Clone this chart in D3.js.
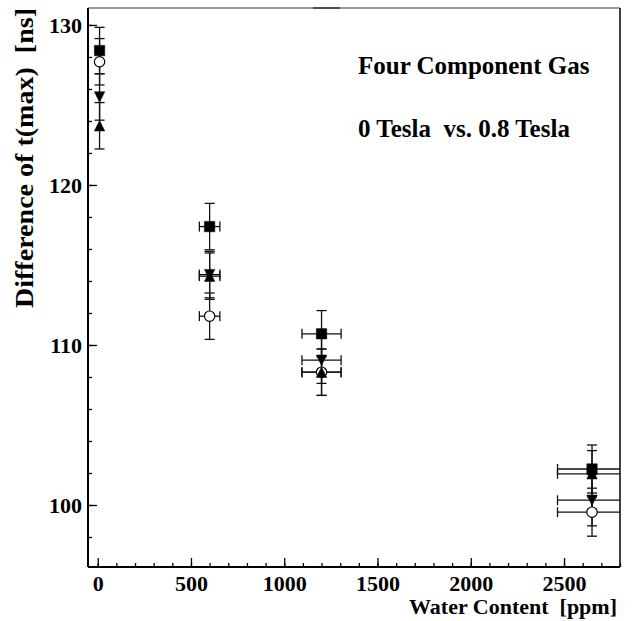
<!DOCTYPE html>
<html>
<head>
<meta charset="utf-8">
<script src="https://cdn.jsdelivr.net/npm/d3@7"></script>
<style>
  body { margin: 0; background: #fff; }
  svg { display: block; font-family: "Liberation Serif", "Times New Roman", serif; font-weight: bold; }
</style>
</head>
<body>
<div class="canvas"></div>
<script>
// water content of the gas [ppm] and its uncertainty
const waterContent = [10, 600, 1200, 2650];
const waterErr = [0, 55, 105, 185];

// difference of t(max) [ns], one array per marker
const squareVals = [128.4, 117.4, 110.7, 102.25];
const squareErr = [1.45, 1.45, 1.45, 1.5];
const circleVals = [127.7, 111.8, 108.3, 99.55];
const circleErr = [1.45, 1.45, 1.45, 1.5];
const downVals = [125.5, 114.4, 109.05, 100.3];
const downErr = [1.45, 1.45, 1.45, 1.6];
const upVals = [123.7, 114.3, 108.3, 101.95];
const upErr = [1.45, 1.45, 1.45, 1.45];

const xTicks = [0, 500, 1000, 1500, 2000, 2500];
const yTicks = [100, 110, 120, 130];

const w = 637;
const h = 621;
const margin = { top: 8, right: 17, bottom: 54, left: 88 };
const graphWidth = w - margin.left - margin.right;
const graphHeight = h - margin.top - margin.bottom;

const svg = d3
  .select(".canvas")
  .append("svg")
  .attr("width", w)
  .attr("height", h);

// scales
const x = d3.scaleLinear().domain([-52, 2800]).range([0, graphWidth]);
const y = d3.scaleLinear().domain([96.125, 131.06]).range([graphHeight, 0]);

const graph = svg
  .append("g")
  .attr("transform", `translate(${margin.left}, ${margin.top})`);

// clip the error bars at the frame
graph.append("clipPath").attr("id", "frame")
  .append("rect").attr("width", graphWidth).attr("height", graphHeight);

// minor ticks
graph.append("g")
  .attr("transform", `translate(0, ${graphHeight})`)
  .call(d3.axisBottom(x).tickValues(d3.range(0, 2801, 100)).tickSize(-4).tickFormat(""))
  .call(g => g.select(".domain").remove());
graph.append("g")
  .call(d3.axisLeft(y).tickValues(d3.range(98, 131, 2)).tickSize(-4).tickFormat(""))
  .call(g => g.select(".domain").remove());

// major ticks and labels
const xAxisGroup = graph.append("g")
  .attr("transform", `translate(0, ${graphHeight})`)
  .call(d3.axisBottom(x).tickValues(xTicks).tickSize(-9).tickPadding(8).tickFormat(d3.format("d")));
const yAxisGroup = graph.append("g")
  .call(d3.axisLeft(y).tickValues(yTicks).tickSize(-9).tickPadding(6));

[xAxisGroup, yAxisGroup].forEach(g => {
  g.select(".domain").remove();
  g.selectAll("text")
    .attr("fill", "#000")
    .style("font-family", "Liberation Serif")
    .style("font-weight", "bold")
    .style("font-size", "22px");
});
graph.selectAll(".tick line").attr("stroke", "#000").attr("stroke-width", 1.3);

// frame
graph.append("line").attr("x1", 0).attr("x2", graphWidth).attr("y1", 0).attr("y2", 0)
  .attr("stroke", "#777").attr("stroke-width", 1.5);
graph.append("line").attr("x1", graphWidth).attr("x2", graphWidth).attr("y1", 0).attr("y2", graphHeight)
  .attr("stroke", "#000").attr("stroke-width", 1.5);
graph.append("line").attr("x1", 0).attr("x2", graphWidth).attr("y1", graphHeight).attr("y2", graphHeight)
  .attr("stroke", "#000").attr("stroke-width", 2);
graph.append("line").attr("x1", 0).attr("x2", 0).attr("y1", 0).attr("y2", graphHeight)
  .attr("stroke", "#000").attr("stroke-width", 2);
// leftover title bar at the top
svg.append("line").attr("x1", 313).attr("x2", 340).attr("y1", 8).attr("y2", 8)
  .attr("stroke", "#333").attr("stroke-width", 1.5);

// build the series, in drawing order
const series = [
  { name: "circle", vals: circleVals, err: circleErr },
  { name: "square", vals: squareVals, err: squareErr },
  { name: "down", vals: downVals, err: downErr },
  { name: "up", vals: upVals, err: upErr }
];
const points = [];
series.forEach(s => {
  s.vals.forEach((v, i) => {
    points.push({ type: s.name, x: waterContent[i], xe: waterErr[i], y: v, ye: s.err[i] });
  });
});

const cap = 5;
const bars = graph.append("g")
  .attr("clip-path", "url(#frame)")
  .attr("stroke", "#111")
  .attr("stroke-width", 1.3)
  .attr("fill", "none");

points.forEach(d => {
  const cx = x(d.x), cy = y(d.y);
  const y0 = y(d.y - d.ye), y1 = y(d.y + d.ye);
  bars.append("line").attr("x1", cx).attr("x2", cx).attr("y1", y0).attr("y2", y1);
  bars.append("line").attr("x1", cx - cap).attr("x2", cx + cap).attr("y1", y0).attr("y2", y0);
  bars.append("line").attr("x1", cx - cap).attr("x2", cx + cap).attr("y1", y1).attr("y2", y1);
  if (d.xe > 0) {
    const x0 = x(d.x - d.xe), x1 = x(d.x + d.xe);
    bars.append("line").attr("x1", x0).attr("x2", x1).attr("y1", cy).attr("y2", cy);
    bars.append("line").attr("x1", x0).attr("x2", x0).attr("y1", cy - cap).attr("y2", cy + cap);
    bars.append("line").attr("x1", x1).attr("x2", x1).attr("y1", cy - cap).attr("y2", cy + cap);
  }
});

// markers
const r = 5.2;
const markerPath = t => {
  if (t === "square") return `M${-r},${-r}H${r}V${r}H${-r}Z`;
  if (t === "up") return `M0,${-r}L${r},${r}H${-r}Z`;
  if (t === "down") return `M0,${r}L${r},${-r}H${-r}Z`;
  return d3.arc()({ innerRadius: 0, outerRadius: r, startAngle: 0, endAngle: 2 * Math.PI });
};
graph.append("g")
  .selectAll("path")
  .data(points)
  .enter()
  .append("path")
  .attr("transform", d => `translate(${x(d.x)}, ${y(d.y)})`)
  .attr("d", d => markerPath(d.type))
  .attr("fill", d => (d.type === "circle" ? "#fff" : "#000"))
  .attr("stroke", "#000")
  .attr("stroke-width", d => (d.type === "circle" ? 1.2 : 0.5));

// texts
svg.append("text")
  .attr("x", 358).attr("y", 74)
  .style("font-size", "25px")
  .text("Four Component Gas");
svg.append("text")
  .attr("x", 358).attr("y", 137)
  .style("font-size", "25px")
  .style("white-space", "pre")
  .text("0 Tesla  vs. 0.8 Tesla");

svg.append("text")
  .attr("text-anchor", "end")
  .attr("x", 617).attr("y", 614)
  .style("font-size", "22px")
  .style("white-space", "pre")
  .text("Water Content  [ppm]");

svg.append("text")
  .attr("text-anchor", "end")
  .attr("transform", "translate(33, 8) rotate(-90)")
  .attr("textLength", 300)
  .attr("lengthAdjust", "spacingAndGlyphs")
  .style("font-size", "25px")
  .style("white-space", "pre")
  .text("Difference of t(max)  [ns]");
</script>
</body>
</html>
